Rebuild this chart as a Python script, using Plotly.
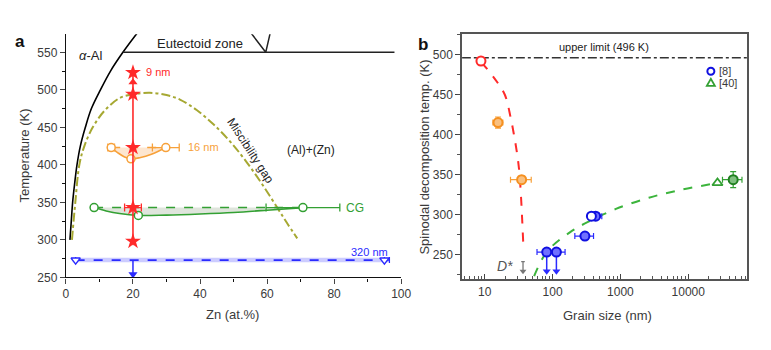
import plotly.graph_objects as go

# ---------------- Panel a data ----------------
solvus_zn = [1.2, 1.6, 2.0, 2.6, 3.3, 4.3, 5.8, 7.6, 10.3, 13.3, 17.0, 21.5]
solvus_T = [300, 325, 350, 375, 400, 425, 450, 475, 500, 525, 550, 577]
eut_zn = [17.0, 98.0]
eut_T = [550, 550]
vee_zn = [55.0, 59.6, 61.0]
vee_T = [577, 550, 577]
gap_zn = [1.8, 2.8, 4.0, 5.5, 8.0, 11.5, 16, 20, 25, 30, 34, 39, 44, 49, 54, 59, 63.3, 66, 69]
gap_T = [300, 350, 400, 425, 450, 472, 489, 494, 496, 493, 487, 473, 454, 431, 403, 371, 341, 322, 302]

red_zn = [20, 20, 20, 20, 20]
red_T = [298, 343, 423, 494, 523]
red_err = [0, 2.5, 0, 0, 0]
red_arrow_T = [510]

or_dash_zn = [13.5, 29.8]
or_dash_T = [423, 423]
or_err = [1.0, 4.0]
or_solid_zn = [13.5, 15.5, 17.5, 19.4, 22, 25.5, 29.8]
or_solid_T = [423, 416, 410.5, 408, 409.5, 414, 423]

gr_dash_zn = [8.4, 70.7]
gr_dash_T = [343, 343]
gr_err = [0, 11]
gr_solid_zn = [8.4, 12, 16, 21.6, 30, 40, 50, 60, 70.7]
gr_solid_T = [343, 338.5, 335, 332.5, 333, 334.5, 336.5, 339.5, 343]
gr_min_zn = [21.6]
gr_min_T = [332.5]

bl_zn = [2.9, 95.0]
bl_T = [273, 273]
bl_band = 3
bl_err = [0, 1.5]
bl_arrow_zn = [20, 20]
bl_arrow_T = [273, 254]

# ---------------- Panel b data ----------------
upper_limit = 496
red_b_d = [8.8]
red_b_T = [492]
or_b_d = [15.7, 35]
or_b_T = [415, 343.6]
or_b_ep = [2.8, 13.5]
or_b_em = [2.5, 11]
red_curve_d = [8.9, 14, 19.8, 24, 27.4, 30.5, 32.5, 34.3, 37]
red_curve_T = [490.7, 470, 449.8, 422, 396.7, 372, 351.7, 322, 264]
gr_curve_d = [53.5, 83, 182, 355, 860, 2630, 7940, 24000]
gr_curve_T = [223, 253.7, 278, 292, 307, 321, 331, 338.7]
gr_tri_d = [27000]
gr_tri_T = [339.5]
gr_b_d = [46000]
gr_b_T = [343.6]
bl_b_d = [82, 114, 300, 432]
bl_b_T = [253, 253, 273, 298]
bl_b_ep = [23, 39, 102, 100]
bl_b_em = [23, 30, 87, 40]
bl_open_d = [374]
bl_open_T = [298]
bl_arrow_d = [82, 114]
bl_arrow_top = 253
bl_arrow_bot = 229
legend_labels = ["[8]", "[40]"]

RED = "#ff2a2a"
ORANGE = "#f7a13a"
GREEN = "#33a033"
BLUE = "#2a2aff"
OLIVE = "#a6a832"
TXT = "#3a3a3a"
FONT = "Liberation Sans, Arial, sans-serif"

fig = go.Figure()

def add(tr, b=False):
    if b:
        tr.update(xaxis="x2", yaxis="y2")
    tr.update(showlegend=False)
    fig.add_trace(tr)

# Panel a
add(go.Scatter(x=solvus_zn, y=solvus_T, mode="lines", line=dict(color="black", width=1.6, shape="spline")))
add(go.Scatter(x=eut_zn, y=eut_T, mode="lines", line=dict(color="#222", width=1.5)))
add(go.Scatter(x=vee_zn, y=vee_T, mode="lines", line=dict(color="#222", width=1.5)))
add(go.Scatter(x=gap_zn, y=gap_T, mode="lines", line=dict(color=OLIVE, width=2, dash="dashdot", shape="spline")))

# blue band
add(go.Scatter(x=[2.0, 96.5, 96.5, 2.0], y=[bl_T[0] - bl_band, bl_T[0] - bl_band, bl_T[0] + bl_band, bl_T[0] + bl_band],
               fill="toself", fillcolor="rgba(110,110,255,0.35)", line=dict(width=0), mode="lines"))
add(go.Scatter(x=bl_zn, y=bl_T, mode="lines+markers", line=dict(color=BLUE, width=1.8, dash="dash"),
               marker=dict(symbol="triangle-down", size=8, color="white", line=dict(color=BLUE, width=1.5)),
               error_x=dict(type="data", array=bl_err, arrayminus=[0, 0], color=BLUE, width=3, thickness=1.2)))
add(go.Scatter(x=bl_arrow_zn, y=bl_arrow_T, mode="lines", line=dict(color=BLUE, width=1.5)))
add(go.Scatter(x=[bl_arrow_zn[1]], y=[bl_arrow_T[1]], mode="markers",
               marker=dict(symbol="triangle-down", size=8, color=BLUE)))

# green fill + lines
add(go.Scatter(x=gr_dash_zn + gr_solid_zn[::-1], y=gr_dash_T + gr_solid_T[::-1], fill="toself",
               fillcolor="rgba(150,170,140,0.3)", line=dict(width=0), mode="lines"))
add(go.Scatter(x=gr_dash_zn, y=gr_dash_T, mode="lines", line=dict(color=GREEN, width=1.5, dash="dash")))
add(go.Scatter(x=gr_solid_zn, y=gr_solid_T, mode="lines", line=dict(color=GREEN, width=1.6, shape="spline")))
add(go.Scatter(x=gr_dash_zn, y=gr_dash_T, mode="markers",
               marker=dict(symbol="circle", size=8, color="white", line=dict(color=GREEN, width=1.5)),
               error_x=dict(type="data", array=gr_err, color=GREEN, width=4, thickness=1.3)))
add(go.Scatter(x=gr_min_zn, y=gr_min_T, mode="markers",
               marker=dict(symbol="circle", size=8, color="white", line=dict(color=GREEN, width=1.5))))

# orange fill + lines
add(go.Scatter(x=or_dash_zn + or_solid_zn[::-1], y=or_dash_T + or_solid_T[::-1], fill="toself",
               fillcolor="rgba(250,200,150,0.45)", line=dict(width=0), mode="lines"))
add(go.Scatter(x=or_dash_zn, y=or_dash_T, mode="lines", line=dict(color=ORANGE, width=1.5, dash="dash")))
add(go.Scatter(x=or_solid_zn, y=or_solid_T, mode="lines", line=dict(color=ORANGE, width=1.6, shape="spline")))
add(go.Scatter(x=or_dash_zn, y=or_dash_T, mode="markers",
               marker=dict(symbol="circle", size=8, color="white", line=dict(color=ORANGE, width=1.5)),
               error_x=dict(type="data", array=or_err, color=ORANGE, width=4, thickness=1.3)))
add(go.Scatter(x=[or_solid_zn[3]], y=[or_solid_T[3]], mode="markers",
               marker=dict(symbol="circle", size=8, color="white", line=dict(color=ORANGE, width=1.5))))

# red 9 nm
add(go.Scatter(x=[red_zn[0], red_zn[-1]], y=[red_T[0], red_T[-1]], mode="lines", line=dict(color=RED, width=1.6)))
add(go.Scatter(x=red_zn, y=red_T, mode="markers",
               marker=dict(symbol="star", size=12, color=RED, line=dict(width=0)),
               error_x=dict(type="data", array=red_err, color=RED, width=4, thickness=1.3)))
add(go.Scatter(x=[20], y=red_arrow_T, mode="markers", marker=dict(symbol="triangle-up", size=8, color=RED)))

# Panel b
add(go.Scatter(x=[4.6, 75000], y=[upper_limit, upper_limit], mode="lines",
               line=dict(color="#333", width=1.5, dash="dashdot")), b=True)
add(go.Scatter(x=red_curve_d, y=red_curve_T, mode="lines", line=dict(color=RED, width=2, dash="dash", shape="spline")), b=True)
add(go.Scatter(x=gr_curve_d, y=gr_curve_T, mode="lines", line=dict(color="#3cb43c", width=2, dash="dash", shape="spline")), b=True)
add(go.Scatter(x=red_b_d, y=red_b_T, mode="markers",
               marker=dict(symbol="circle", size=9, color="white", line=dict(color=RED, width=2)),
               error_x=dict(type="data", array=[0.7], color=RED, width=3, thickness=1.2)), b=True)
add(go.Scatter(x=or_b_d, y=or_b_T, mode="markers",
               marker=dict(symbol="circle", size=9, color="#f9c080", line=dict(color="#f59020", width=2)),
               error_x=dict(type="data", array=or_b_ep, arrayminus=or_b_em, color=ORANGE, width=3, thickness=1.2),
               error_y=dict(type="data", array=[7, 5], color=ORANGE, width=3, thickness=1.2)), b=True)
add(go.Scatter(x=[bl_arrow_d[0], bl_arrow_d[0], None, bl_arrow_d[1], bl_arrow_d[1]],
               y=[bl_arrow_top, bl_arrow_bot, None, bl_arrow_top, bl_arrow_bot], mode="lines",
               line=dict(color=BLUE, width=1.5)), b=True)
add(go.Scatter(x=bl_arrow_d, y=[bl_arrow_bot, bl_arrow_bot], mode="markers",
               marker=dict(symbol="triangle-down", size=7, color=BLUE)), b=True)
add(go.Scatter(x=bl_b_d, y=bl_b_T, mode="markers",
               marker=dict(symbol="circle", size=9, color="#7070ff", line=dict(color="#1010e0", width=2)),
               error_x=dict(type="data", array=bl_b_ep, arrayminus=bl_b_em, color=BLUE, width=3, thickness=1.2)), b=True)
add(go.Scatter(x=bl_open_d, y=bl_open_T, mode="markers",
               marker=dict(symbol="circle", size=9, color="white", line=dict(color="#1010e0", width=2))), b=True)
add(go.Scatter(x=gr_tri_d, y=gr_tri_T, mode="markers",
               marker=dict(symbol="triangle-up", size=9, color="white", line=dict(color=GREEN, width=1.8))), b=True)
add(go.Scatter(x=gr_b_d, y=gr_b_T, mode="markers",
               marker=dict(symbol="circle", size=9, color="#80c080", line=dict(color="#208020", width=2)),
               error_x=dict(type="data", array=[16000], arrayminus=[14000], color=GREEN, width=3, thickness=1.2),
               error_y=dict(type="data", array=[10], color=GREEN, width=3, thickness=1.2)), b=True)
# D* arrow
add(go.Scatter(x=[36.7, 36.7], y=[241, 229], mode="lines", line=dict(color="#777", width=1.3)), b=True)
add(go.Scatter(x=[36.7], y=[229], mode="markers", marker=dict(symbol="triangle-down", size=6, color="#777")), b=True)
add(go.Scatter(x=[34.5, 39], y=[241, 241], mode="lines", line=dict(color="#777", width=1.3)), b=True)

W, H = 771, 350
def px(x, y):
    return x / W, 1 - y / H

ann = []
def label(text, x, y, size=12, color=TXT, xanchor="center", **kw):
    X, Y = px(x, y)
    d = dict(text=text, x=X, y=Y, xref="paper", yref="paper", showarrow=False,
             xanchor=xanchor, yanchor="middle",
             font=dict(size=size, color=color, family=FONT))
    d.update(kw)
    ann.append(d)

label("<b>a</b>", 17, 42, size=17, color="#111")
label("<b>b</b>", 427, 45, size=17, color="#111")
label("<i>α</i>-Al", 89, 57, size=13, color="#222")
label("Eutectoid zone", 200, 44, size=13, color="#222")
label("9 nm", 143, 73, size=11, color=RED, xanchor="left")
label("16 nm", 186, 150, size=11, color=ORANGE, xanchor="left")
label("CG", 347, 212, size=12, color=GREEN, xanchor="left")
label("320 nm", 373, 257, size=11, color=BLUE)
label("(Al)+(Zn)", 313, 153, size=12, color="#222")
label("Miscibility gap", 252, 154, size=12, color="#222", textangle=57)
label("Temperature (K)", 22, 159, size=13, color=TXT, textangle=-90)
label("Zn (at.%)", 233, 321, size=13, color=TXT)
label("Spinodal decomposition temp. (K)", 429, 160, size=13, color=TXT, textangle=-90)
label("Grain size (nm)", 615, 322, size=13, color=TXT)
label("upper limit (496 K)", 611, 48, size=11, color="#222")
label("<i>D*</i>", 511, 271, size=14, color="#555")
label(legend_labels[0], 726, 72.7, size=11, color=TXT, xanchor="left")
label(legend_labels[1], 726, 84.5, size=11, color=TXT, xanchor="left")

# legend glyphs (pixel-sized shapes)
shapes = [
    dict(type="circle", xref="paper", yref="paper", xsizemode="pixel", ysizemode="pixel",
         xanchor=720 / W, yanchor=1 - 72.7 / H, x0=-3.5, x1=3.5, y0=-3.5, y1=3.5,
         line=dict(color="#1010e0", width=2), fillcolor="white"),
    dict(type="path", xref="paper", yref="paper", xsizemode="pixel", ysizemode="pixel",
         xanchor=720 / W, yanchor=1 - 84.5 / H, path="M -4 -3 L 4 -3 L 0 4 Z",
         line=dict(color=GREEN, width=1.8), fillcolor="white"),
]

axis_common = dict(showgrid=False, zeroline=False, showline=True, ticks="outside",
                   tickfont=dict(size=12, color=TXT, family=FONT), ticklen=5)

minor_log = [m * 10 ** k for k in range(0, 5) for m in range(2, 10)]

fig.update_layout(
    width=W, height=H, margin=dict(l=0, r=0, t=0, b=0),
    paper_bgcolor="white", plot_bgcolor="white",
    font=dict(family=FONT, color=TXT),
    annotations=ann, shapes=shapes, showlegend=False,
    xaxis=dict(domain=[64 / W, 405 / W], range=[0, 100], tickvals=[0, 20, 40, 60, 80, 100],
               linecolor="#111", linewidth=1.4, anchor="y",
               minor=dict(dtick=10, ticks="outside", ticklen=3, tickcolor="#111"), **axis_common),
    yaxis=dict(domain=[(H - 283) / H, (H - 35) / H], range=[250, 574], tickvals=[250, 300, 350, 400, 450, 500, 550],
               linecolor="#111", linewidth=1.4, anchor="x",
               minor=dict(dtick=25, ticks="outside", ticklen=3, tickcolor="#111"), **axis_common),
    xaxis2=dict(type="log", domain=[467 / W, 757 / W], range=[0.667, 4.87], anchor="y2",
                tickvals=[10, 100, 1000, 10000], ticktext=["10", "100", "1000", "10000"],
                linecolor="#555", linewidth=1.8, mirror=True,
                minor=dict(tickvals=minor_log, ticks="inside", ticklen=3, tickcolor="#555"),
                **{**axis_common, "ticks": "inside", "ticklen": 5}),
    yaxis2=dict(domain=[(H - 285) / H, (H - 35) / H], range=[219, 525.4], anchor="x2",
                tickvals=[250, 300, 350, 400, 450, 500],
                linecolor="#555", linewidth=1.8, mirror=True,
                minor=dict(dtick=25, ticks="outside", ticklen=3, tickcolor="#555"), **axis_common),
)

fig.write_html("out.html")
